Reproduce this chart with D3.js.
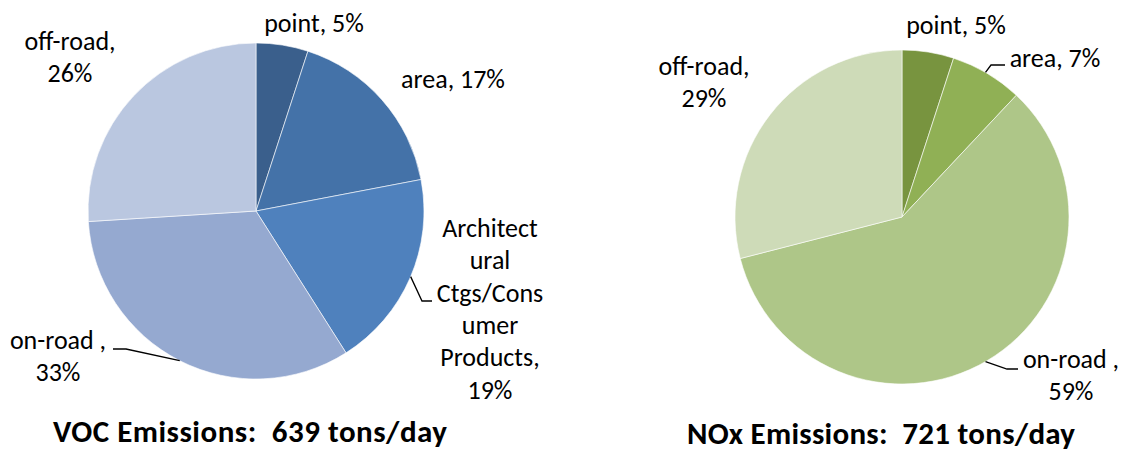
<!DOCTYPE html>
<html>
<head>
<meta charset="utf-8">
<script src="https://cdn.jsdelivr.net/npm/d3@7"></script>
<style>
  body { margin: 0; background: #fff; }
  text { font-family: Carlito, Calibri, Lato, sans-serif; fill: #000; white-space: pre; }
</style>
</head>
<body>
<div id="chart"></div>
<script>
// VOC emissions by source category (percent of 639 tons/day)
const vocCategories = ["point", "area", "Architectural Ctgs/Consumer Products", "on-road", "off-road"];
const vocValues = [5, 17, 19, 33, 26];
const vocLabels = [["point, 5%"], ["area, 17%"], ["Architect", "ural", "Ctgs/Cons", "umer", "Products,", "19%"], ["on-road ,", "33%"], ["off-road,", "26%"]];
const vocTitle = "VOC Emissions:  639 tons/day";

// NOx emissions by source category (percent of 721 tons/day)
const noxCategories = ["point", "area", "on-road", "off-road"];
const noxValues = [5, 7, 59, 29];
const noxLabels = [["point, 5%"], ["area, 7%"], ["on-road ,", "59%"], ["off-road,", "29%"]];
const noxTitle = "NOx Emissions:  721 tons/day";

const width = 1125, height = 450;
const lineHeight = 32.3;

const svg = d3.select("#chart").append("svg")
  .attr("width", width)
  .attr("height", height);

const charts = [
  {
    cx: 256, cy: 211, r: 168,
    categories: vocCategories, values: vocValues, labels: vocLabels,
    colors: ["#3a5f8c", "#4472a8", "#4f81bd", "#95a9d0", "#bac7e0"],
    title: vocTitle, titlePos: [250, 442], titleWidth: 394,
    // label anchor: center x, baseline of first line; leader: angle on rim (deg), elbow, end
    labelPos: [
      { x: 314, y: 32 },
      { x: 453, y: 88 },
      { x: 490, y: 237, leader: { angle: 113, pts: [[422, 301], [432, 301]] } },
      { x: 58, y: 349, leader: { angle: 207, pts: [[126, 349], [113, 349]] } },
      { x: 70, y: 50 }
    ]
  },
  {
    cx: 902, cy: 217, r: 167,
    categories: noxCategories, values: noxValues, labels: noxLabels,
    colors: ["#78943f", "#90b055", "#aec688", "#cedbb8"],
    title: noxTitle, titlePos: [881, 444], titleWidth: 388,
    labelPos: [
      { x: 956, y: 34 },
      { x: 1055, y: 67, leader: { angle: 30, pts: [[991, 65], [1005, 65]] } },
      { x: 1071, y: 368, leader: { angle: 150, pts: [[1007, 369], [1018, 369]] } },
      { x: 704, y: 75 }
    ]
  }
];

charts.forEach(c => {
  const pie = d3.pie().sort(null).value(d => d);
  const arc = d3.arc().innerRadius(0).outerRadius(c.r);
  const color = d3.scaleOrdinal().domain(c.categories).range(c.colors);

  const g = svg.append("g").attr("transform", `translate(${c.cx},${c.cy})`);

  g.selectAll("path.slice")
    .data(pie(c.values))
    .enter()
    .append("path")
    .attr("class", "slice")
    .attr("d", arc)
    .attr("fill", (d, i) => color(c.categories[i]))
    .attr("stroke", "#fff")
    .attr("stroke-width", 0.6);

  // leader lines
  c.labelPos.forEach(p => {
    if (!p.leader) return;
    const a = p.leader.angle * Math.PI / 180;
    const start = [c.cx + c.r * Math.sin(a), c.cy - c.r * Math.cos(a)];
    svg.append("path")
      .attr("d", d3.line()([start, ...p.leader.pts]))
      .attr("fill", "none")
      .attr("stroke", "#000")
      .attr("stroke-width", 1.3);
  });

  // data labels
  c.labels.forEach((lines, i) => {
    const p = c.labelPos[i];
    const t = svg.append("text")
      .attr("text-anchor", "middle")
      .style("font-size", "26px");
    lines.forEach((ln, j) => {
      t.append("tspan")
        .attr("x", p.x)
        .attr("y", p.y + j * lineHeight)
        .text(ln);
    });
  });

  svg.append("text")
    .attr("x", c.titlePos[0])
    .attr("y", c.titlePos[1])
    .attr("text-anchor", "middle")
    .attr("textLength", c.titleWidth)
    .attr("lengthAdjust", "spacing")
    .style("font-size", "31px")
    .style("font-weight", "bold")
    .text(c.title);
});
</script>
</body>
</html>
